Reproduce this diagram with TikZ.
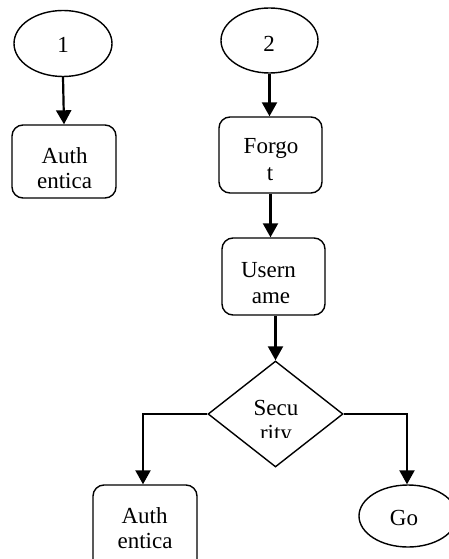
\documentclass[tikz,border=0pt]{standalone}
\usepackage{fontspec}
\setmainfont{Liberation Serif}
\usetikzlibrary{shapes.geometric,arrows.meta}
\begin{document}
\begin{tikzpicture}[x=1pt,y=-1pt,
 shapeline/.style={draw, line width=1.4pt, inner sep=0pt},
 oval/.style={shapeline, ellipse},
 procbox/.style={shapeline, rectangle, rounded corners=11pt},
 decide/.style={shapeline, diamond},
 lbl/.style={font=\fontsize{23}{25}\selectfont, anchor=base, inner sep=0pt},
 conn/.style={line width=2.2pt, -{Triangle[length=14pt,width=15pt]}},
]
\useasboundingbox (0,0) rectangle (449,559);
\clip (0,0) rectangle (449,559);
% shapes
\node[oval, minimum width=98pt, minimum height=66pt] (e1) at (63,43.5) {};
\node[procbox, minimum width=104pt, minimum height=73pt] (a1) at (64,161.5) {};
\node[oval, minimum width=97pt, minimum height=65pt] (e2) at (269.5,40.5) {};
\node[procbox, minimum width=103pt, minimum height=76pt] (f) at (270.5,155) {};
\node[procbox, minimum width=103pt, minimum height=77pt] (u) at (273.5,276.5) {};
\node[decide, minimum width=135pt, minimum height=106pt] (s) at (275.5,414) {};
\node[procbox, minimum width=104pt, minimum height=90pt] (a2) at (145,530) {};
\node[oval, minimum width=98pt, minimum height=62pt] (g) at (408,516) {};
% connectors
\draw[conn] (e1.south) -- (a1.north);
\draw[conn] (e2.south) -- (e2.south |- f.north);
\draw[conn] (f.south) -- (f.south |- u.north);
\draw[conn] (s.north |- u.south) -- (s.north);
\draw[conn] (s.west) -| ([xshift=-2pt]a2.north);
\draw[conn] (s.east) -| ([xshift=-1pt]g.north);
% labels
\node[lbl] (t1) at (63,53) {1};
\node[lbl] (t2) at (269,52) {2};
\node[lbl] (a1l1) at (64.5,163) {Auth};
\node[lbl] (a1l2) at (64.5,188) {entica};
\node[lbl] (fl1) at (271,153) {Forgo};
\node[lbl] (fl2) at (270,180) {t};
\node[lbl] (ul1) at (268.5,277) {Usern};
\node[lbl] (ul2) at (271,303) {ame};
\node[lbl] (sl1) at (276,415) {Secu};
\begin{scope}
\clip (230,420) rectangle (320,437);
\node[lbl] (sl2) at (276,440) {rity};
\end{scope}
\node[lbl] (a2l1) at (144.5,523) {Auth};
\node[lbl] (a2l2) at (145,548) {entica};
\node[lbl] (gl) at (404,525) {Go};
\end{tikzpicture}
\end{document}
